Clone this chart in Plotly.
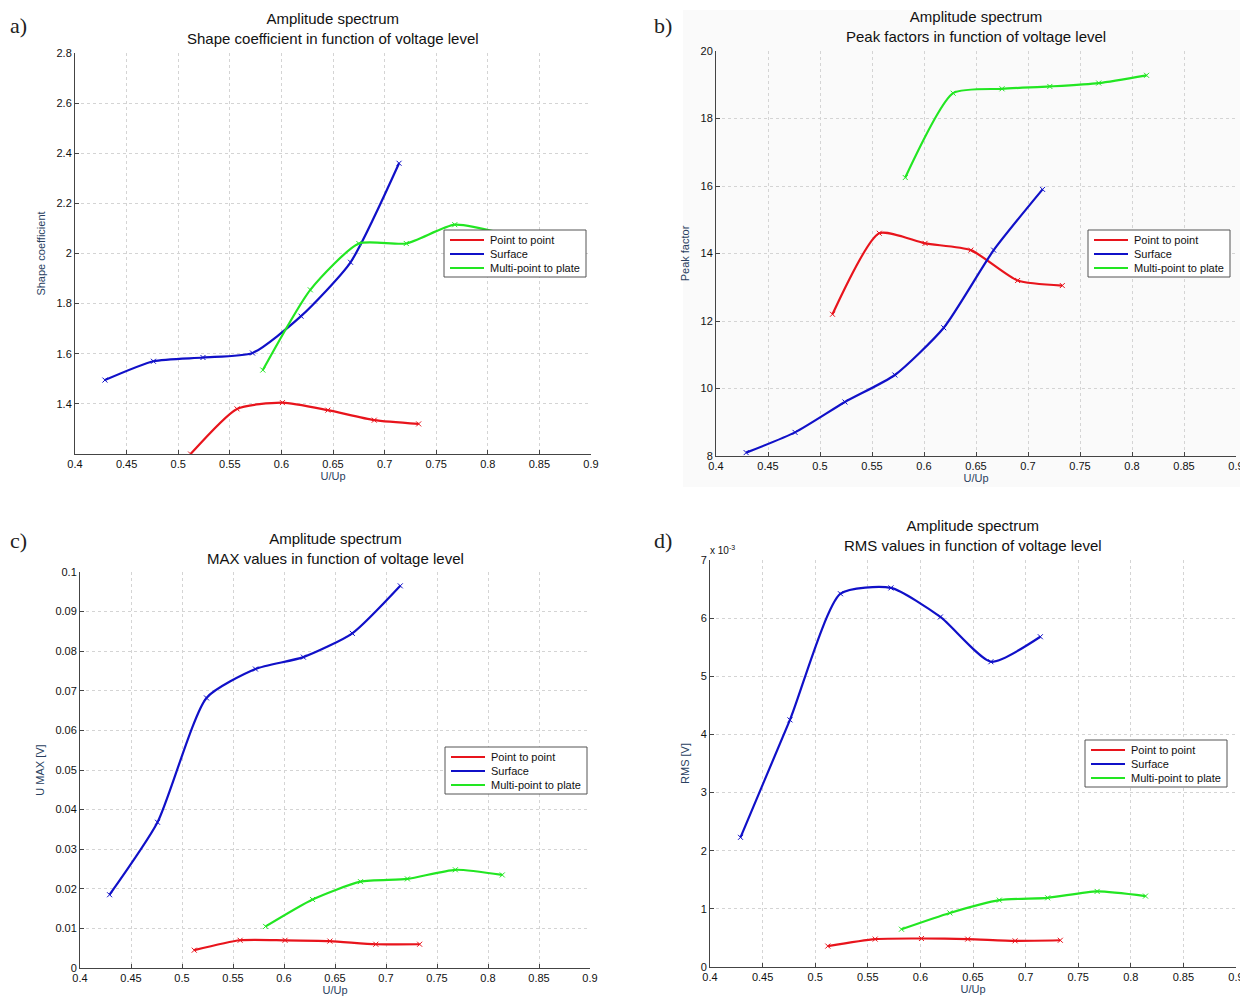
import plotly.graph_objects as go

# shared voltage levels (U/Up) per electrode arrangement
x_p2p = [0.512, 0.557, 0.601, 0.645, 0.690, 0.733]
x_surf = [0.429, 0.476, 0.524, 0.572, 0.619, 0.667, 0.714]
x_multi = [0.582, 0.628, 0.675, 0.721, 0.768, 0.814]

# a) shape coefficient
shape_p2p = [1.20, 1.38, 1.405, 1.375, 1.335, 1.32]
shape_surf = [1.495, 1.57, 1.585, 1.603, 1.75, 1.965, 2.36]
shape_multi = [1.535, 1.855, 2.04, 2.04, 2.115, 2.08]

# b) peak factor
peak_p2p = [12.2, 14.6, 14.3, 14.1, 13.2, 13.05]
peak_surf = [8.1, 8.7, 9.6, 10.4, 11.8, 14.1, 15.9]
peak_multi = [16.25, 18.75, 18.88, 18.95, 19.05, 19.28]

# c) U MAX [V]
max_p2p = [0.0045, 0.0070, 0.0070, 0.0068, 0.0060, 0.0060]
max_surf = [0.0185, 0.0368, 0.0682, 0.0755, 0.0785, 0.0845, 0.0965]
max_multi = [0.0105, 0.0173, 0.0218, 0.0225, 0.0248, 0.0235]

# d) RMS [V], in units of 1e-3
rms_p2p = [0.36, 0.48, 0.49, 0.48, 0.45, 0.46]
rms_surf = [2.23, 4.25, 6.42, 6.52, 6.02, 5.25, 5.68]
rms_multi = [0.65, 0.93, 1.15, 1.19, 1.30, 1.22]

series_names = ['Point to point', 'Surface', 'Multi-point to plate']
colors = ['#e8141c', '#1010c8', '#22e622']
x_ticks = [0.4, 0.45, 0.5, 0.55, 0.6, 0.65, 0.7, 0.75, 0.8, 0.85, 0.9]

# page body has an 8px margin, so the figure is a bit smaller and coords are shifted
OFF = 8
W, H = 1248 - OFF, 997 - OFF
FONT = 'Liberation Sans, Arial, sans-serif'

panels = [
    dict(label='a)', title='Amplitude spectrum<br>Shape coefficient in function of voltage level',
         ytitle='Shape coefficient', ys=[shape_p2p, shape_surf, shape_multi],
         box=(75, 591, 53, 454), yrange=[1.2, 2.8], ytick=[1.4, 1.6, 1.8, 2.0, 2.2, 2.4, 2.6, 2.8],
         legend=(444, 230), title_y=19, lab=(8, 25)),
    dict(label='b)', title='Amplitude spectrum<br>Peak factors in function of voltage level',
         ytitle='Peak factor', ys=[peak_p2p, peak_surf, peak_multi],
         box=(716, 1236, 51, 456), yrange=[8, 20], ytick=[8, 10, 12, 14, 16, 18, 20],
         legend=(1088, 230), title_y=17, lab=(652, 25)),
    dict(label='c)', title='Amplitude spectrum<br>MAX values in function of voltage level',
         ytitle='U MAX [V]', ys=[max_p2p, max_surf, max_multi],
         box=(80, 590, 572, 968), yrange=[0, 0.1],
         ytick=[0, 0.01, 0.02, 0.03, 0.04, 0.05, 0.06, 0.07, 0.08, 0.09, 0.1],
         legend=(445, 747), title_y=539, lab=(8, 540)),
    dict(label='d)', title='Amplitude spectrum<br>RMS values in function of voltage level',
         ytitle='RMS [V]', ys=[rms_p2p, rms_surf, rms_multi],
         box=(710, 1236, 560, 967), yrange=[0, 7], ytick=[0, 1, 2, 3, 4, 5, 6, 7],
         legend=(1085, 740), title_y=526, lab=(652, 540)),
]
xs = [x_p2p, x_surf, x_multi]

fig = go.Figure()
layout = {}
annotations = []
shapes = []


def px(x):
    return (x - OFF) / W


def py(y):
    return 1 - (y - OFF) / H


# light grey backdrop behind panel b
shapes.append(dict(type='rect', xref='paper', yref='paper', layer='below',
                   x0=px(683), x1=px(1243), y0=py(487), y1=py(10),
                   fillcolor='#fafafa', line=dict(width=0)))

for i, p in enumerate(panels):
    n = i + 1
    xa = 'x' if n == 1 else f'x{n}'
    ya = 'y' if n == 1 else f'y{n}'
    x0, x1, y0, y1 = p['box']
    for k in range(3):
        fig.add_trace(go.Scatter(
            x=xs[k], y=p['ys'][k], mode='lines+markers', name=series_names[k], showlegend=False,
            line=dict(color=colors[k], width=2.2, shape='spline', smoothing=0.6),
            marker=dict(symbol='x-thin', size=5, line=dict(color=colors[k], width=1)),
            xaxis=xa, yaxis=ya))

    axis_common = dict(showline=True, linecolor='#444444', linewidth=1, mirror=False,
                       ticks='inside', ticklen=4, tickcolor='#444444', automargin=False,
                       showgrid=True, gridcolor='#d4d4d4', griddash='dot', gridwidth=1,
                       zeroline=False, tickfont=dict(size=11, color='#111111', family=FONT))
    layout['xaxis' if n == 1 else f'xaxis{n}'] = dict(
        axis_common, domain=[px(x0), px(x1)], anchor=ya, range=[0.4, 0.9],
        tickvals=x_ticks, ticktext=[('%g' % v) for v in x_ticks],
        title=dict(text='U/Up', font=dict(size=11, family=FONT), standoff=2))
    layout['yaxis' if n == 1 else f'yaxis{n}'] = dict(
        axis_common, domain=[py(y1), py(y0)], anchor=xa, range=p['yrange'],
        tickvals=p['ytick'], ticktext=[('%g' % v) for v in p['ytick']],
        title=dict(text=p['ytitle'], font=dict(size=11, family=FONT), standoff=8))

    # legend box in the MATLAB style: short line sample + label per series
    lx, ly = p['legend']
    shapes.append(dict(type='rect', xref='paper', yref='paper',
                       x0=px(lx), x1=px(lx + 142), y0=py(ly + 47), y1=py(ly),
                       fillcolor='white', line=dict(color='#555555', width=1)))
    for k in range(3):
        yy = ly + 10 + 14 * k
        shapes.append(dict(type='line', xref='paper', yref='paper',
                           x0=px(lx + 6), x1=px(lx + 40), y0=py(yy), y1=py(yy),
                           line=dict(color=colors[k], width=2.2)))
        annotations.append(dict(text=series_names[k], xref='paper', yref='paper',
                                x=px(lx + 44), y=py(yy), xanchor='left', yanchor='middle',
                                showarrow=False,
                                font=dict(size=11, family=FONT, color='#111111')))

    annotations.append(dict(text=p['title'], xref='paper', yref='paper',
                            x=px((x0 + x1) / 2), y=py(p['title_y'] + 9),
                            xanchor='center', yanchor='middle', showarrow=False,
                            font=dict(size=15, family=FONT, color='#111111')))
    annotations.append(dict(text=p['label'], xref='paper', yref='paper',
                            x=px(p['lab'][0]), y=py(p['lab'][1]),
                            xanchor='left', yanchor='middle', showarrow=False,
                            font=dict(size=22, family='Liberation Serif, serif', color='#222222')))

annotations.append(dict(text='x 10<sup>-3</sup>', xref='paper', yref='paper',
                        x=px(708), y=py(550), xanchor='left', yanchor='middle',
                        showarrow=False, font=dict(size=10, family=FONT, color='#111111')))

fig.update_layout(layout)
fig.update_layout(width=W, height=H, margin=dict(l=0, r=0, t=0, b=0),
                  paper_bgcolor='white', plot_bgcolor='rgba(0,0,0,0)', showlegend=False,
                  annotations=annotations, shapes=shapes, font=dict(family=FONT))

fig.write_html('out.html')
